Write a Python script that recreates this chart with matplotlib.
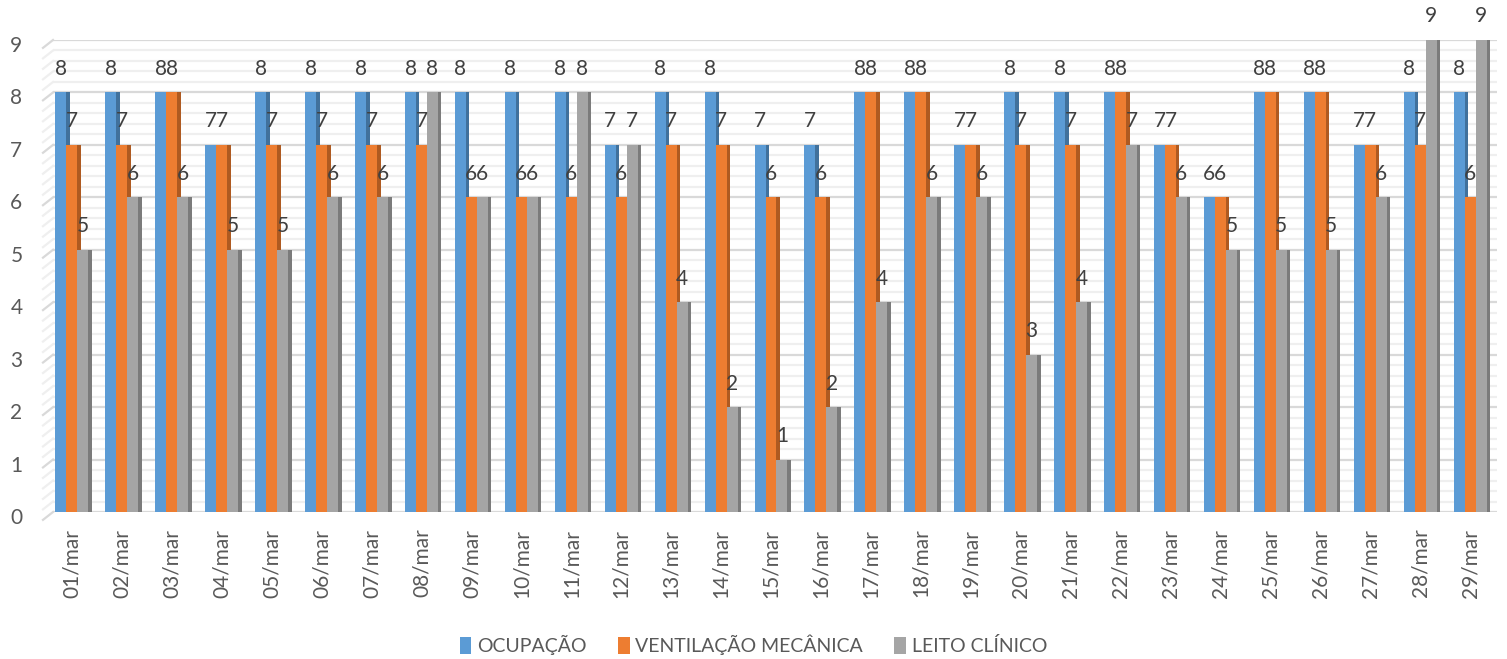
import numpy as np
import matplotlib
matplotlib.use("Agg")
import matplotlib.pyplot as plt
from matplotlib.transforms import ScaledTranslation

plt.rcParams['font.family'] = ['Lato', 'DejaVu Sans']

# data
dias = ['01/mar', '02/mar', '03/mar', '04/mar', '05/mar', '06/mar', '07/mar',
        '08/mar', '09/mar', '10/mar', '11/mar', '12/mar', '13/mar', '14/mar',
        '15/mar', '16/mar', '17/mar', '18/mar', '19/mar', '20/mar', '21/mar',
        '22/mar', '23/mar', '24/mar', '25/mar', '26/mar', '27/mar', '28/mar',
        '29/mar']
ocupacao = [8, 8, 8, 7, 8, 8, 8, 8, 8, 8, 8, 7, 8, 8, 7, 7, 8, 8, 7, 8, 8, 8,
            7, 6, 8, 8, 7, 8, 8]
ventilacao = [7, 7, 8, 7, 7, 7, 7, 7, 6, 6, 6, 6, 7, 7, 6, 6, 8, 8, 7, 7, 7, 8,
              7, 6, 8, 8, 7, 7, 6]
leito = [5, 6, 6, 5, 5, 6, 6, 8, 6, 6, 8, 7, 4, 2, 1, 2, 4, 6, 6, 3, 4, 7, 6,
         5, 5, 5, 6, 9, 9]

series = [
    ('OCUPAÇÃO', ocupacao, '#5B9BD5', '#41719C'),
    ('VENTILAÇÃO MECÂNICA', ventilacao, '#ED7D31', '#AE5A21'),
    ('LEITO CLÍNICO', leito, '#A5A5A5', '#7B7B7B'),
]

fig = plt.figure(figsize=(15.07, 6.59), dpi=100)
W, H = 1507, 659
ax = fig.add_axes([53 / W, 1 - 512 / H, 1444 / W, 472 / H])

x = np.arange(len(dias))
w = 0.22
d = 0.07

# gridlines (major + minor every 0.2), with a little 3D slant at the left
ygrid = np.round(np.arange(0, 9.001, 0.2), 1)
trans = ax.get_yaxis_transform()
for g in ygrid:
    major = abs(g - round(g)) < 1e-6
    c = '#D9D9D9' if major else '#EFEFEF'
    ax.axhline(g, color=c, lw=1.6, zorder=0)
    ax.plot([-10 / 1444, 0], [g - 0.15, g], color=c, lw=1.6,
            transform=trans, clip_on=False, zorder=0)

for i, (name, vals, col, dark) in enumerate(series):
    pos = x + (i - 1) * w
    # side face for the 3D look
    ax.bar(pos + w / 2, vals, width=d, align='edge',
           color=dark, zorder=2 + 2 * i)
    ax.bar(pos, vals, width=w, color=col, label=name, zorder=3 + 2 * i)
    for xp, v in zip(pos, vals):
        ax.text(xp, v + 0.45, str(v), ha='center', va='center',
                fontsize=15, color='#404040', zorder=20)

ax.set_xlim(-0.38, 28.54)
ax.set_ylim(0, 9)
for s in ax.spines.values():
    s.set_visible(False)

ax.set_yticks(range(10))
ax.tick_params(axis='y', length=0, pad=22, labelsize=15, labelcolor='#595959')
for lab in ax.get_yticklabels():
    lab.set_transform(lab.get_transform() +
                      ScaledTranslation(0, -4 / 100, fig.dpi_scale_trans))

ax.set_xticks(x)
ax.set_xticklabels(dias, rotation=90)
ax.tick_params(axis='x', length=0, pad=12, labelsize=15, labelcolor='#595959')

fig.legend(loc='center', bbox_to_anchor=(0.5, 1 - 645 / H), ncol=3,
           frameon=False, fontsize=14, labelcolor='#595959',
           handlelength=0.6, handleheight=0.9, handletextpad=0.3,
           columnspacing=1.6)

fig.savefig('out.png', dpi=100)
